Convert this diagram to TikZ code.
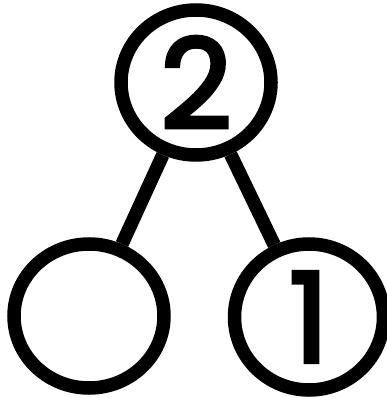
\documentclass[tikz,border=0pt]{standalone}
\usepackage{fontspec}
\setmainfont{Poppins}
\newfontfamily\digitfont{Poppins}[FakeBold=3.5]
\usetikzlibrary{shapes.geometric}
\begin{document}
\begin{tikzpicture}[x=1pt,y=-1pt,
  bond/.style={draw=black,line width=13.5pt,ellipse,inner sep=0pt,fill=white,
    font=\fontsize{124}{124}\selectfont\digitfont},
  link/.style={draw=black,line width=13.5pt}]
\useasboundingbox (0,0) rectangle (387,398);
\node[bond,minimum width=150pt,minimum height=145pt] (top) at (196,82.5) {2};
\node[bond,minimum width=150pt,minimum height=144pt] (left) at (89,316) {};
\node[bond,minimum width=149pt,minimum height=146pt] (right) at (309,317) {1};
\draw[link] (top) -- (left);
\draw[link] (top) -- (right);
\end{tikzpicture}
\end{document}
